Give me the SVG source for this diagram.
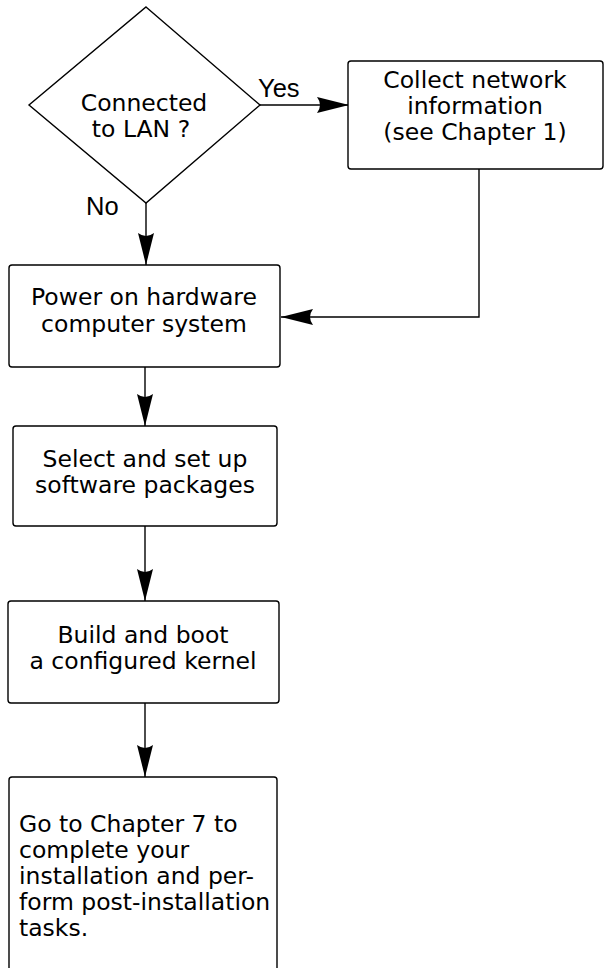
<svg xmlns="http://www.w3.org/2000/svg" width="605" height="968" viewBox="0 0 605 968">
<style>
.shape{fill:#fff;stroke:#000;stroke-width:1.4}
.t{font-family:"DejaVu Sans","Liberation Sans",sans-serif;font-size:23.5px;fill:#000}
.c{text-anchor:middle}
.lbl{font-family:"Liberation Sans",Arial,sans-serif;font-size:25.5px;fill:#000}
.conn{fill:none;stroke:#000;stroke-width:1.4}
</style>
<defs>
<marker id="ah" markerUnits="userSpaceOnUse" markerWidth="34" markerHeight="20" viewBox="-33 -10 34 20" refX="0" refY="0" orient="auto">
<path d="M0 0 L-32 -8 Q-26 0 -32 8 Z" fill="#000"/>
</marker>
</defs>
<rect width="605" height="968" fill="#fff"/>
<g id="connectors">
<path class="conn" d="M260 105 H349" marker-end="url(#ah)"/>
<path class="conn" d="M146 203 V265" marker-end="url(#ah)"/>
<path class="conn" d="M479 169 V317 H281" marker-end="url(#ah)"/>
<path class="conn" d="M145 367 V426" marker-end="url(#ah)"/>
<path class="conn" d="M145 526 V601" marker-end="url(#ah)"/>
<path class="conn" d="M145 703 V777" marker-end="url(#ah)"/>
<text class="lbl" x="258" y="97">Yes</text>
<text class="lbl" x="86" y="215">No</text>
</g>
<g id="decision">
<polygon class="shape" points="146,7 260,105 146,203 29,105"/>
<text class="t c" x="144" y="111">Connected</text>
<text class="t c" x="141" y="137">to LAN ?</text>
</g>
<g id="collect">
<rect class="shape" x="348" y="61" width="255" height="108" rx="3"/>
<text class="t c" x="475" y="88">Collect network</text>
<text class="t c" x="475" y="114">information</text>
<text class="t c" x="475" y="140">(see Chapter 1)</text>
</g>
<g id="power">
<rect class="shape" x="9" y="265" width="271" height="102" rx="3"/>
<text class="t c" x="144" y="305">Power on hardware</text>
<text class="t c" x="144" y="332">computer system</text>
</g>
<g id="select">
<rect class="shape" x="13" y="426" width="264" height="100" rx="3"/>
<text class="t c" x="145" y="467">Select and set up</text>
<text class="t c" x="145" y="493">software packages</text>
</g>
<g id="build">
<rect class="shape" x="8" y="601" width="271" height="102" rx="3"/>
<text class="t c" x="143" y="643">Build and boot</text>
<text class="t c" x="143" y="669">a configured kernel</text>
</g>
<g id="goto">
<rect class="shape" x="9" y="777" width="268" height="230" rx="3"/>
<text class="t" x="19" y="832">Go to Chapter 7 to</text>
<text class="t" x="19" y="858">complete your</text>
<text class="t" x="19" y="884">installation and per-</text>
<text class="t" x="19" y="910">form post-installation</text>
<text class="t" x="19" y="936">tasks.</text>
</g>
</svg>
